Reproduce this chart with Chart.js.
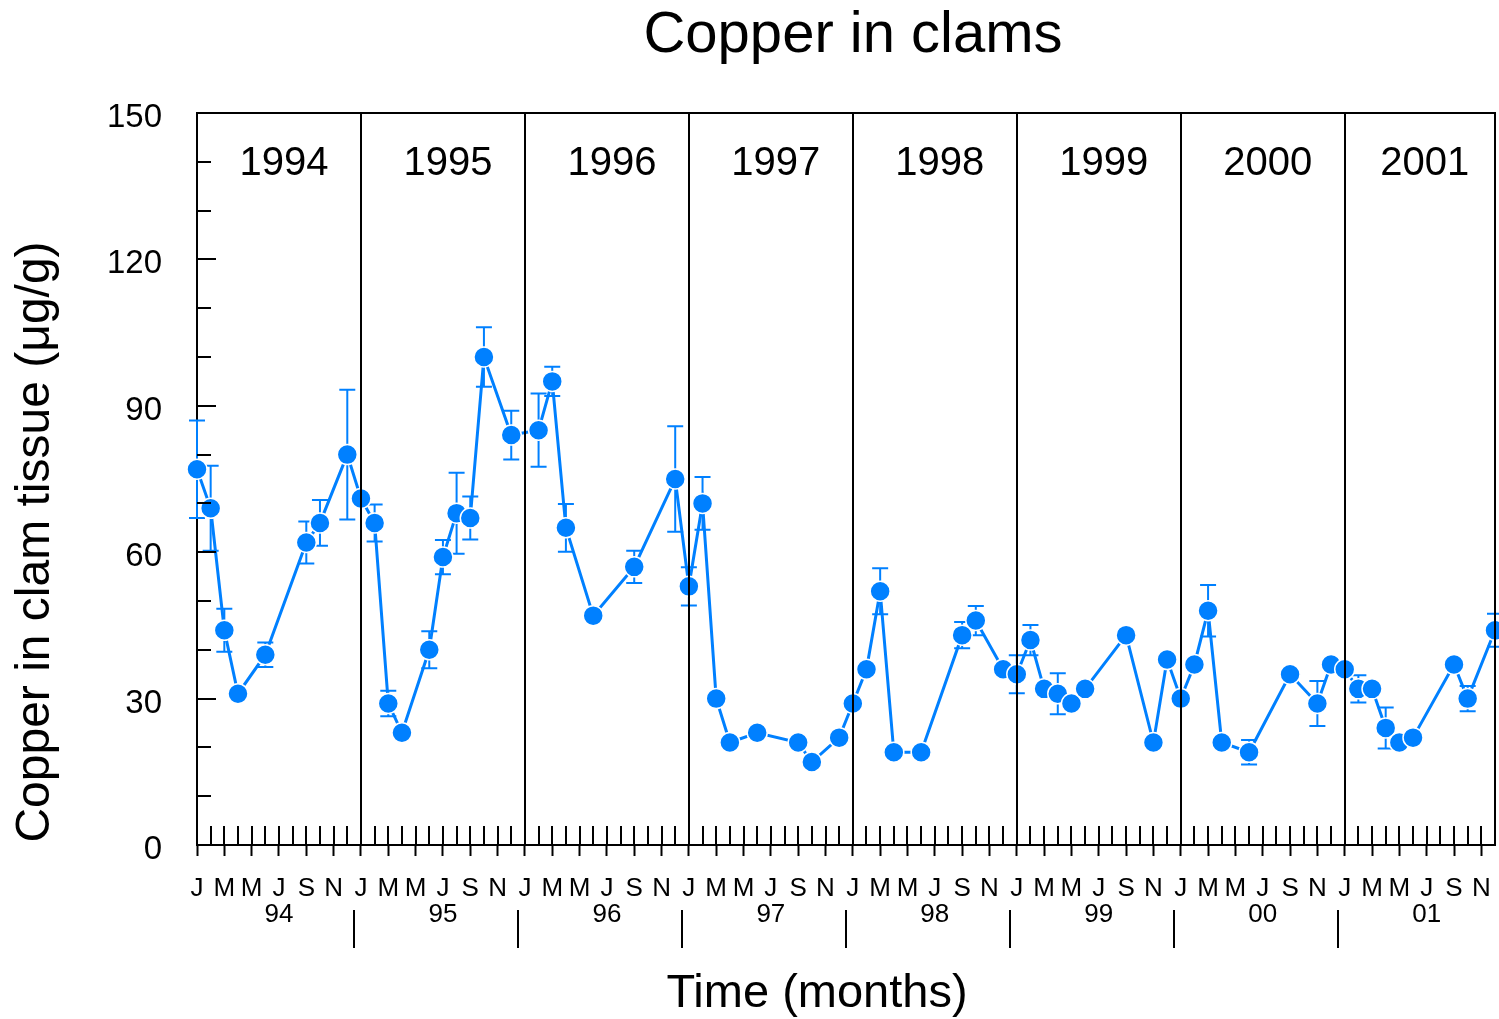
<!DOCTYPE html>
<html>
<head>
<meta charset="utf-8">
<title>Copper in clams</title>
<script src="https://cdn.jsdelivr.net/npm/chart.js@4.4.1/dist/chart.umd.min.js"></script>
<style>
  html, body { margin: 0; padding: 0; background: #fff; }
  #wrap { position: relative; width: 1499px; height: 1019px; }
</style>
</head>
<body>
<div id="wrap"><canvas id="chart"></canvas></div>
<script>
// sampling months (first axis month is Jan 1994)
const sampleDates = [
  "1994-01", "1994-02", "1994-03", "1994-04", "1994-06", "1994-09", "1994-10", "1994-12",
  "1995-01", "1995-02", "1995-03", "1995-04", "1995-06", "1995-07", "1995-08", "1995-09", "1995-10", "1995-12",
  "1996-02", "1996-03", "1996-04", "1996-06", "1996-09", "1996-12",
  "1997-01", "1997-02", "1997-03", "1997-04", "1997-06", "1997-09", "1997-10", "1997-12",
  "1998-01", "1998-02", "1998-03", "1998-04", "1998-06", "1998-09", "1998-10", "1998-12",
  "1999-01", "1999-02", "1999-03", "1999-04", "1999-05", "1999-06", "1999-09", "1999-11", "1999-12",
  "2000-01", "2000-02", "2000-03", "2000-04", "2000-06", "2000-09", "2000-11", "2000-12",
  "2001-01", "2001-02", "2001-03", "2001-04", "2001-05", "2001-06", "2001-09", "2001-10", "2001-12"
];

// copper, ug/g
const copper = [
  77, 69, 44, 31, 39, 62, 66, 80,
  71, 66, 29, 23, 40, 59, 68, 67, 100, 84,
  85, 95, 65, 47, 57, 75,
  53, 70, 30, 21, 23, 21, 17, 22,
  29, 36, 52, 19, 19, 43, 46, 36,
  35, 42, 32, 31, 29, 32, 43, 21, 38,
  30, 37, 48, 21, 19, 35, 29, 37,
  36, 32, 32, 24, 21, 22, 37, 30, 44
];

// +/- error (null = no bar shown)
const copperErr = [
  10, 8.7, 4.4, null, 2.5, 4.3, 4.7, 13.3,
  null, 3.8, 2.6, null, 3.8, 3.5, 8.3, 4.4, 6.1, 5,
  7.5, 3, 4.9, null, 3.3, 10.8,
  3.9, 5.4, null, null, null, null, null, null,
  null, null, 4.7, null, null, 2.7, 3, null,
  3.9, 3.1, null, 4.2, null, null, null, null, null,
  null, null, 5.3, null, 2.5, null, 4.6, null,
  null, 2.8, null, 4.2, null, null, null, 2.6, 3.4
];

const monthLetters = ["J", "F", "M", "A", "M", "J", "J", "A", "S", "O", "N", "D"];
const yearNames = ["1994", "1995", "1996", "1997", "1998", "1999", "2000", "2001"];
const yearShort = ["94", "95", "96", "97", "98", "99", "00", "01"];

const FIRST_YEAR = 1994;
const LAST_MONTH = 95;
const BLUE = "#0080ff";
const FONT = "'Liberation Sans', Arial, sans-serif";

const monthIndex = d => (parseInt(d.slice(0, 4)) - FIRST_YEAR) * 12 + parseInt(d.slice(5, 7)) - 1;
const points = sampleDates.map((d, i) => ({ x: monthIndex(d), y: copper[i] }));

const decor = {
  id: "decor",
  beforeDatasetsDraw(chart) {
    // error bars, under the points
    const { ctx, scales: { x, y } } = chart;
    ctx.save();
    ctx.strokeStyle = BLUE;
    ctx.lineWidth = 2;
    copperErr.forEach((e, i) => {
      if (e == null) return;
      const px = x.getPixelForValue(points[i].x);
      const top = y.getPixelForValue(copper[i] + e);
      const bot = y.getPixelForValue(copper[i] - e);
      ctx.beginPath();
      ctx.moveTo(px, top); ctx.lineTo(px, bot);
      ctx.moveTo(px - 8, top); ctx.lineTo(px + 8, top);
      ctx.moveTo(px - 8, bot); ctx.lineTo(px + 8, bot);
      ctx.stroke();
    });
    ctx.restore();
  },
  afterDatasetsDraw(chart) {
    const { ctx, chartArea: a, scales: { x, y } } = chart;
    ctx.save();
    ctx.strokeStyle = "#000";
    ctx.lineWidth = 2;
    ctx.beginPath();
    // top and right of the frame
    ctx.moveTo(a.left, a.top); ctx.lineTo(a.right, a.top); ctx.lineTo(a.right, a.bottom);
    // year dividers
    for (let k = 1; k < yearNames.length; k++) {
      const px = Math.round(x.getPixelForValue(k * 12));
      ctx.moveTo(px, a.top); ctx.lineTo(px, a.bottom);
    }
    // month ticks pointing in
    x.ticks.forEach(t => {
      const px = Math.round(x.getPixelForValue(t.value));
      ctx.moveTo(px, a.bottom); ctx.lineTo(px, a.bottom - 19);
    });
    // y ticks pointing in
    y.ticks.forEach(t => {
      const py = Math.round(y.getPixelForValue(t.value));
      const len = t.value % 30 === 0 ? 19 : 14;
      ctx.moveTo(a.left, py); ctx.lineTo(a.left + len, py);
    });
    // year separators under the month labels
    for (let k = 1; k < yearNames.length; k++) {
      const px = Math.round(x.getPixelForValue(k * 12 - 0.5));
      ctx.moveTo(px, a.bottom + 65); ctx.lineTo(px, a.bottom + 103);
    }
    ctx.stroke();
    ctx.restore();
  },
  afterDraw(chart) {
    const { ctx, chartArea: a, scales: { x } } = chart;
    ctx.save();
    ctx.fillStyle = "#000";
    ctx.textAlign = "center";
    ctx.textBaseline = "middle";
    // year names inside the plot
    ctx.font = "40px " + FONT;
    yearNames.forEach((name, k) => {
      const l = x.getPixelForValue(k * 12);
      const r = x.getPixelForValue(Math.min(k * 12 + 12, LAST_MONTH));
      ctx.fillText(name, (l + r) / 2 + 5, a.top + 51);
    });
    // titles
    ctx.font = "58px " + FONT;
    ctx.fillText("Copper in clams", 853, 36);
    ctx.font = "47px " + FONT;
    ctx.fillText("Time (months)", 817, 994);
    ctx.font = "48px " + FONT;
    ctx.translate(36, 542);
    ctx.rotate(-Math.PI / 2);
    ctx.fillText("Copper in clam tissue (\u03bcg/g)", 0, 0);
    ctx.restore();
  }
};

new Chart(document.getElementById("chart"), {
  type: "line",
  data: {
    datasets: [{
      data: points,
      borderColor: BLUE,
      backgroundColor: BLUE,
      borderWidth: 3,
      pointRadius: 10,
      pointBorderWidth: 1.5,
      pointBorderColor: "#fff",
      pointBackgroundColor: BLUE,
      clip: false,
      tension: 0
    }]
  },
  options: {
    responsive: true,
    maintainAspectRatio: false,
    animation: false,
    events: [],
    layout: { autoPadding: false, padding: { top: 113, right: 4, left: 0, bottom: 0 } },
    plugins: { legend: { display: false }, title: { display: false }, tooltip: { enabled: false } },
    scales: {
      x: {
        type: "linear",
        min: 0,
        max: LAST_MONTH,
        afterFit: s => { s.height = 174; s.paddingLeft = 0; s.paddingRight = 0; },
        border: { display: true, color: "#000", width: 2 },
        grid: {
          drawOnChartArea: false,
          drawTicks: true,
          tickLength: 11,
          tickWidth: 2,
          color: "rgba(0,0,0,0)",
          tickColor: c => (c.tick && c.tick.value % 2 === 0) ? "#000" : "rgba(0,0,0,0)"
        },
        ticks: {
          stepSize: 1,
          autoSkip: false,
          maxRotation: 0,
          minRotation: 0,
          padding: 20,
          color: "#000",
          font: { family: FONT, size: 26, lineHeight: 1 },
          callback: v => {
            if (v % 2 !== 0) return "";
            const letter = monthLetters[v % 12];
            return v % 12 === 6 ? [letter, yearShort[Math.floor(v / 12)]] : letter;
          }
        }
      },
      y: {
        min: 0,
        max: 150,
        afterFit: s => { s.width = 197; },
        border: { display: true, color: "#000", width: 2 },
        grid: { drawOnChartArea: false, drawTicks: false },
        ticks: {
          stepSize: 10,
          padding: 35,
          labelOffset: 5,
          color: "#000",
          font: { family: FONT, size: 33 },
          callback: v => (v % 30 === 0 ? String(v) : "")
        }
      }
    }
  },
  plugins: [decor]
});
</script>
</body>
</html>
